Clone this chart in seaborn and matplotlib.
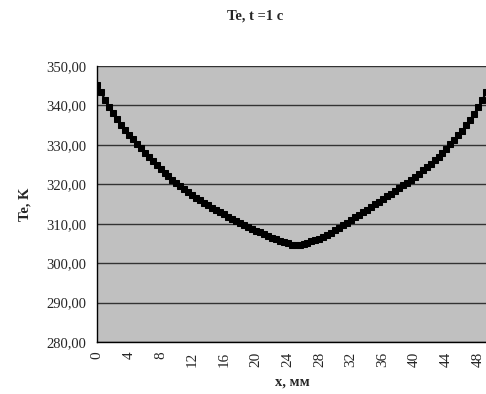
import numpy as np
import pandas as pd
import matplotlib
matplotlib.use("Agg")
import matplotlib.pyplot as plt
import seaborn as sns

# x positions, mm (category step 0.5 mm)
x_mm = np.arange(0, 49.5, 0.5)

# Te, K
te_k = [
    345.2, 343.3, 341.5, 339.7, 338.0, 336.5, 335.0, 333.8, 332.6, 331.4,
    330.2, 329.1, 328.0, 326.9, 325.8, 324.8, 323.8, 322.9, 322.0, 321.1,
    320.3, 319.5, 318.8, 318.0, 317.3, 316.6, 316.0, 315.3, 314.7, 314.1,
    313.5, 312.9, 312.4, 311.8, 311.3, 310.7, 310.2, 309.7, 309.2, 308.7,
    308.2, 307.8, 307.3, 306.9, 306.5, 306.1, 305.7, 305.3, 305.0, 304.7,
    304.5, 304.6, 304.8, 305.1, 305.5, 305.8, 306.2, 306.7, 307.2, 307.7,
    308.3, 308.9, 309.6, 310.2, 310.9, 311.6, 312.3, 312.9, 313.6, 314.3,
    314.9, 315.6, 316.3, 317.0, 317.6, 318.3, 319.0, 319.7, 320.4, 321.2,
    321.9, 322.7, 323.5, 324.3, 325.2, 326.1, 327.0, 328.0, 329.0, 330.1,
    331.2, 332.4, 333.6, 335.0, 336.4, 337.9, 339.5, 341.3, 343.3,
]

y_ticks = [280, 290, 300, 310, 320, 330, 340, 350]
x_label_ticks = [0, 4, 8, 12, 16, 20, 24, 28, 32, 36, 40, 44, 48]

df = pd.DataFrame({"x": x_mm, "Te": te_k})

sns.set_style("white")
plt.rcParams["font.family"] = ["Liberation Serif", "DejaVu Serif"]

fig = plt.figure(figsize=(4.86, 3.94), dpi=100)
ax = fig.add_axes([97 / 486, 1 - 342 / 394, 1 - 97 / 486 + 0.002, (342 - 66) / 394])
ax.set_facecolor("#c0c0c0")

sns.lineplot(data=df, x="x", y="Te", ax=ax, color="black", linewidth=1.5,
             marker="s", markersize=4.5, markeredgecolor="black", zorder=3)

ax.set_xlim(0, 49.1)
ax.set_ylim(280, 350)

ax.set_yticks(y_ticks)
ax.set_yticklabels([f"{v:.2f}".replace(".", ",") for v in y_ticks], fontsize=10.5)
ax.yaxis.grid(True, color="#333333", linewidth=1)
ax.set_axisbelow(True)

ax.set_xticks(x_label_ticks)
ax.set_xticklabels([str(v) for v in x_label_ticks], rotation=90, fontsize=11)
ax.set_xticks(x_mm, minor=True)
ax.tick_params(axis="both", which="both", direction="out", length=4,
               width=1, color="black", pad=3)
ax.tick_params(axis="y", length=5)

for side in ["top", "right"]:
    ax.spines[side].set_visible(False)
for side in ["left", "bottom"]:
    ax.spines[side].set_color("black")
    ax.spines[side].set_linewidth(1)

ax.set_xlabel("x, мм", fontsize=10.5, fontweight="bold", labelpad=6)
ax.set_ylabel("Te, K", fontsize=10.5, fontweight="bold", labelpad=10)
fig.text(255 / 486, 1 - 16 / 394, "Te, t =1 c", ha="center", va="center",
         fontsize=10.5, fontweight="bold")

fig.savefig("out.png", dpi=100)
